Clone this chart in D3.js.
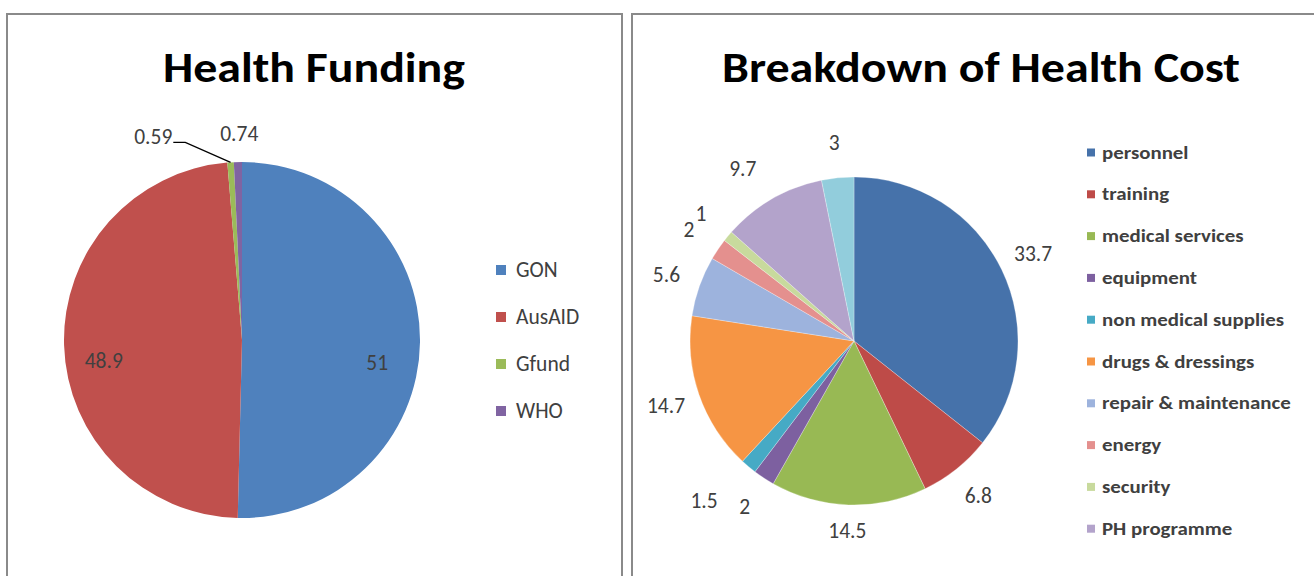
<!DOCTYPE html>
<html>
<head>
<meta charset="utf-8">
<script src="https://cdn.jsdelivr.net/npm/d3@7"></script>
<style>
  html, body { margin: 0; padding: 0; background: #fff; }
  svg { display: block; }
  text { font-family: Carlito, Lato, "Open Sans", sans-serif; }
</style>
</head>
<body>
<svg id="chart" width="1314" height="576"></svg>
<script>
// ---- Health Funding ----
const fundingSources = ["GON", "AusAID", "Gfund", "WHO"];
const fundingValues = [51, 48.9, 0.59, 0.74];
const fundingColors = ["#4F81BD", "#C0504D", "#9BBB59", "#8064A2"];

// ---- Breakdown of Health Cost ----
const costItems = ["personnel", "training", "medical services", "equipment",
  "non medical supplies", "drugs & dressings", "repair & maintenance",
  "energy", "security", "PH programme", "other"];
const costValues = [33.7, 6.8, 14.5, 2, 1.5, 14.7, 5.6, 2, 1, 9.7, 3];
const costColors = ["#4672AA", "#BE4B48", "#98B954", "#7D60A0", "#46AAC5",
  "#F69544", "#9DB3DD", "#E4908E", "#C8DA9D", "#B3A3CB", "#92CDDC"];
const costLegendCount = 10; // entries that fit in the panel

const svg = d3.select("#chart");
const labelColor = "#404040";

// stretch a text element horizontally by factor k
function stretch(sel, k) {
  sel.each(function () {
    const w = this.getComputedTextLength();
    d3.select(this).attr("textLength", w * k).attr("lengthAdjust", "spacingAndGlyphs");
  });
  return sel;
}

// Panel frames
svg.append("rect").attr("x", 7).attr("y", 14).attr("width", 615).attr("height", 600)
  .attr("fill", "#fff").attr("stroke", "#8a8a8a").attr("stroke-width", 2);
svg.append("rect").attr("x", 632).attr("y", 14).attr("width", 700).attr("height", 600)
  .attr("fill", "#fff").attr("stroke", "#8a8a8a").attr("stroke-width", 2);

// Titles
function title(text, cx, width) {
  svg.append("text").attr("x", cx).attr("y", 82)
    .attr("text-anchor", "middle")
    .attr("font-size", 43).attr("font-weight", 700).attr("fill", "#000")
    .attr("textLength", width).attr("lengthAdjust", "spacingAndGlyphs")
    .text(text);
}
title("Health Funding", 314, 302);
title("Breakdown of Health Cost", 981, 518);

const pie = d3.pie().sort(null).value(d => d.value);
const labelSize = 21.5;

// ---- Left pie ----
{
  const cx = 242, cy = 340, r = 178;
  const data = fundingSources.map((k, i) => ({ key: k, value: fundingValues[i], color: fundingColors[i] }));
  const arcs = pie(data);
  const arc = d3.arc().innerRadius(0).outerRadius(r);
  const g = svg.append("g").attr("transform", `translate(${cx},${cy})`);
  g.selectAll("path").data(arcs).join("path")
    .attr("d", arc).attr("fill", d => d.data.color);

  // inside labels for the two large slices, outside for the thin ones
  const inner = d3.arc().innerRadius(r * 0.76).outerRadius(r * 0.76);
  const nudges = { GON: [0, 21], AusAID: [-3, 17] };
  arcs.slice(0, 2).forEach(a => {
    const [x, y] = inner.centroid(a);
    const [dx, dy] = nudges[a.data.key];
    g.append("text").attr("x", x + dx).attr("y", y + dy)
      .attr("text-anchor", "middle").attr("dominant-baseline", "central")
      .attr("font-size", labelSize).attr("fill", labelColor)
      .text(a.data.value);
  });

  const polar = (ang, rad) => [rad * Math.sin(ang), -rad * Math.cos(ang)];
  // WHO label just above its slice
  const who = arcs[3];
  const [wx, wy] = polar((who.startAngle + who.endAngle) / 2, r + 28);
  g.append("text").attr("x", wx + 2).attr("y", wy)
    .attr("text-anchor", "middle").attr("dominant-baseline", "central")
    .attr("font-size", labelSize).attr("fill", labelColor).text(who.data.value);

  // Gfund label pushed left with a leader line
  const gf = arcs[2];
  const ga = (gf.startAngle + gf.endAngle) / 2;
  const [ex, ey] = polar(ga, r);
  const [lx, ly] = polar(ga, r + 20);
  g.append("path")
    .attr("d", `M${ex},${ey} L${lx - 44},${ly} L${lx - 56},${ly}`)
    .attr("fill", "none").attr("stroke", "#000").attr("stroke-width", 1.3);
  g.append("text").attr("x", lx - 57).attr("y", ly - 5)
    .attr("text-anchor", "end").attr("dominant-baseline", "central")
    .attr("font-size", labelSize).attr("fill", labelColor).text(gf.data.value);

  // legend
  const ly0 = 270, step = 47;
  data.forEach((d, i) => {
    const y = ly0 + i * step;
    svg.append("rect").attr("x", 496).attr("y", y - 5).attr("width", 10).attr("height", 10)
      .attr("fill", d.color);
    svg.append("text").attr("x", 516).attr("y", y).attr("dominant-baseline", "central")
      .attr("font-size", 21.5).attr("fill", labelColor).text(d.key);
  });
}

// ---- Right pie ----
{
  const cx = 854, cy = 341, r = 164;
  const data = costItems.map((k, i) => ({ key: k, value: costValues[i], color: costColors[i] }));
  const arcs = pie(data);
  const arc = d3.arc().innerRadius(0).outerRadius(r);
  const g = svg.append("g").attr("transform", `translate(${cx},${cy})`);
  g.selectAll("path").data(arcs).join("path")
    .attr("d", arc).attr("fill", d => d.data.color)
    .attr("stroke", "rgba(255,255,255,0.35)").attr("stroke-width", 0.8);

  const outer = d3.arc().innerRadius(r + 35).outerRadius(r + 35);
  const nudges = { "non medical supplies": [-22, 8], "PH programme": [-12, 0], "medical services": [0, -9] };
  arcs.forEach(a => {
    const [x, y] = outer.centroid(a);
    const [dx, dy] = nudges[a.data.key] || [0, 0];
    g.append("text").attr("x", x + dx).attr("y", y + dy)
      .attr("text-anchor", "middle").attr("dominant-baseline", "central")
      .attr("font-size", labelSize).attr("fill", labelColor)
      .text(a.data.value);
  });

  const ly0 = 152.5, step = 41.8;
  data.slice(0, costLegendCount).forEach((d, i) => {
    const y = ly0 + i * step;
    svg.append("rect").attr("x", 1087).attr("y", y - 4).attr("width", 8).attr("height", 8)
      .attr("fill", d.color);
    const t = svg.append("text").attr("x", 1102).attr("y", y).attr("dominant-baseline", "central")
      .attr("font-size", 18).attr("font-weight", 700).attr("fill", labelColor).text(d.key);
    stretch(t, 1.16);
  });
}
</script>
</body>
</html>
